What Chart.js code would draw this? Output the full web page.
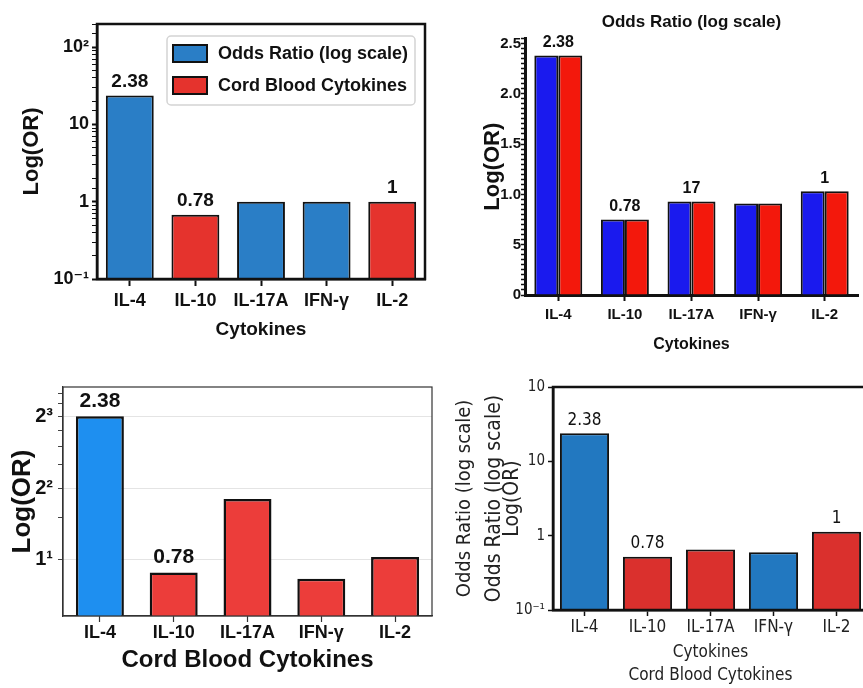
<!DOCTYPE html>
<html lang="en">
<head>
<meta charset="UTF-8">
<title>Cytokines - Log(OR)</title>
<script src="https://cdn.jsdelivr.net/npm/chart.js@4.4.1/dist/chart.umd.min.js"></script>
<style>
  html, body { margin: 0; padding: 0; background: #fff; width: 863px; height: 688px; overflow: hidden; }
  .panel { position: absolute; }
</style>
</head>
<body>
<div class="panel" style="left:0;top:0"><canvas id="c1" width="440" height="345"></canvas></div>
<div class="panel" style="left:440px;top:0"><canvas id="c2" width="423" height="360"></canvas></div>
<div class="panel" style="left:0;top:370px"><canvas id="c3" width="440" height="318"></canvas></div>
<div class="panel" style="left:440px;top:370px"><canvas id="c4" width="440" height="318"></canvas></div>

<script>
// ---- data ----
var cytokines = ['IL-4', 'IL-10', 'IL-17A', 'IFN-γ', 'IL-2'];

// top left (log10 axis, two legend groups)
var oddsRatioA = [23.8, null, 1.0, 1.0, null];
var cordBloodA = [null, 0.68, null, null, 1.0];
var barTextA = ['2.38', '0.78', '', '', '1'];
var yTicksA = [0.1, 1, 10, 100];
var yTickTextA = ['10⁻¹', '1', '10', '10²'];

// top right (linear axis, paired bars)
var oddsRatioB = [2.38, 0.75, 0.93, 0.91, 1.03];
var cordBloodB = [2.38, 0.75, 0.93, 0.91, 1.03];
var barTextB = ['2.38', '0.78', '17', '', '1'];
var yTicksB = [0, 0.5, 1, 1.5, 2, 2.5];
var yTickTextB = ['0', '5', '1.0', '1.5', '2.0', '2.5'];

// bottom left (base-2 axis)
var valuesC = [8.0, 1.77, 3.6, 1.67, 2.06];
var groupC = ['odds', 'cord', 'cord', 'cord', 'cord'];
var barTextC = ['2.38', '0.78', '', '', ''];
var yTicksC = [2, 4, 8];
var yTickTextC = ['1¹', '2²', '2³'];

// bottom right (log10 axis)
var valuesD = [23.9, 0.52, 0.65, 0.60, 1.13];
var groupD = ['odds', 'cord', 'cord', 'odds', 'cord'];
var barTextD = ['2.38', '0.78', '', '', '1'];
var yTicksD = [0.1, 1, 10, 100];
var yTickTextD = ['10⁻¹', '1', '10', '10'];

// ---- look ----
var ARIAL = "'Liberation Sans', 'DejaVu Sans', sans-serif";
var DEJAVU = "'DejaVu Sans Condensed', 'DejaVu Sans', sans-serif";
var INK = '#111';

Chart.defaults.animation = false;
Chart.defaults.color = INK;
Chart.defaults.plugins.legend.display = false;
Chart.defaults.plugins.tooltip.enabled = false;

function f(family, size, bold, lh) {
  return { family: family, size: size, weight: bold ? 'bold' : 'normal', lineHeight: lh || 1.2 };
}

function near(list, v) {
  for (var i = 0; i < list.length; i++) {
    if (Math.abs(list[i] - v) < 1e-6 * Math.max(1, list[i])) return i;
  }
  return -1;
}

// text above each category's bar(s)
function barText(labels, font, gap) {
  return {
    id: 'barText',
    afterDatasetsDraw: function (chart) {
      var ctx = chart.ctx;
      ctx.save();
      ctx.font = font;
      ctx.fillStyle = INK;
      ctx.textAlign = 'center';
      ctx.textBaseline = 'middle';
      labels.forEach(function (t, i) {
        if (!t) return;
        var lo = Infinity, hi = -Infinity, top = Infinity;
        chart.data.datasets.forEach(function (ds, d) {
          var el = chart.getDatasetMeta(d).data[i];
          if (!el || ds.data[i] == null) return;
          lo = Math.min(lo, el.x); hi = Math.max(hi, el.x); top = Math.min(top, el.y);
        });
        ctx.fillText(t, (lo + hi) / 2, top - gap);
      });
      ctx.restore();
    }
  };
}

// closed box around the plot area
function frame(color, width) {
  return {
    id: 'frame',
    afterDatasetsDraw: function (chart) {
      var a = chart.chartArea, ctx = chart.ctx;
      ctx.save();
      ctx.strokeStyle = color;
      ctx.lineWidth = width;
      ctx.strokeRect(a.left, a.top, a.right - a.left, a.bottom - a.top);
      ctx.restore();
    }
  };
}

// legend box drawn inside the plot (top-left panel)
var insideLegend = {
  id: 'insideLegend',
  afterDraw: function (chart) {
    var ctx = chart.ctx;
    ctx.save();
    ctx.beginPath();
    ctx.roundRect(167, 36, 248, 69, 4);
    ctx.fillStyle = 'rgba(255,255,255,0.85)';
    ctx.fill();
    ctx.strokeStyle = '#d4d4d4';
    ctx.lineWidth = 1.5;
    ctx.stroke();
    ctx.font = 'bold 18px ' + ARIAL;
    ctx.textBaseline = 'middle';
    chart.data.datasets.forEach(function (ds, i) {
      var y = 53 + i * 32;
      ctx.fillStyle = ds.backgroundColor;
      ctx.fillRect(173, y - 8, 34, 17);
      ctx.strokeStyle = INK;
      ctx.lineWidth = 2;
      ctx.strokeRect(173, y - 8, 34, 17);
      ctx.fillStyle = INK;
      ctx.fillText(ds.label, 218, y + 1);
    });
    ctx.restore();
  }
};

// ---- top left ----
var BLUE_A = '#2a7ec6', RED_A = '#e5332d';
new Chart(document.getElementById('c1'), {
  type: 'bar',
  data: {
    labels: cytokines,
    datasets: [
      { label: 'Odds Ratio (log scale)', data: oddsRatioA, backgroundColor: BLUE_A, borderColor: INK, borderWidth: 2, skipNull: true },
      { label: 'Cord Blood Cytokines', data: cordBloodA, backgroundColor: RED_A, borderColor: INK, borderWidth: 2, skipNull: true }
    ]
  },
  options: {
    responsive: false,
    layout: { padding: { left: 0, top: 24, right: 15, bottom: 0 } },
    datasets: { bar: { categoryPercentage: 0.73, barPercentage: 1 } },
    scales: {
      x: {
        grid: { drawOnChartArea: false, offset: false, tickLength: 7, tickColor: INK, tickWidth: 2 },
        border: { color: INK, width: 2.5 },
        ticks: { font: f(ARIAL, 18, true), padding: 4, maxRotation: 0, autoSkip: false },
        title: { display: true, text: 'Cytokines', font: f(ARIAL, 19, true), padding: { top: 0, bottom: 4 } },
        afterFit: function (s) { s.height = 66; }
      },
      y: {
        type: 'logarithmic', min: 0.1, max: 200,
        grid: {
          drawOnChartArea: false, tickLength: 5, tickColor: INK,
          tickWidth: function (c) { return near(yTicksA, c.tick.value) >= 0 ? 2 : 1; }
        },
        border: { color: INK, width: 2.5 },
        ticks: {
          autoSkip: false, font: f(ARIAL, 18, true), padding: 3,
          callback: function (v) { var i = near(yTicksA, v); return i >= 0 ? yTickTextA[i] : ''; }
        },
        title: { display: true, text: 'Log(OR)', font: f(ARIAL, 22, true), padding: { top: 19, bottom: 0 } },
        afterFit: function (s) { s.width = 97; }
      }
    }
  },
  plugins: [barText(barTextA, 'bold 19px ' + ARIAL, 14), frame(INK, 2.5), insideLegend]
});

// ---- top right ----
var BLUE_B = '#1a1aee', RED_B = '#f3180c';
new Chart(document.getElementById('c2'), {
  type: 'bar',
  data: {
    labels: cytokines,
    datasets: [
      { label: 'Odds Ratio (log scale)', data: oddsRatioB, backgroundColor: BLUE_B, borderColor: INK, borderWidth: 2 },
      { label: 'Cord Blood Cytokines', data: cordBloodB, backgroundColor: RED_B, borderColor: INK, borderWidth: 2 }
    ]
  },
  options: {
    responsive: false,
    layout: { padding: { left: 0, top: 0, right: 5, bottom: 0 } },
    datasets: { bar: { categoryPercentage: 0.72, barPercentage: 1 } },
    plugins: {
      title: {
        display: true, text: 'Odds Ratio (log scale)', fullSize: false,
        font: f(ARIAL, 17, true), color: INK, padding: { top: 12, bottom: 6 }
      }
    },
    scales: {
      x: {
        grid: { drawOnChartArea: false, offset: false, tickLength: 6, tickColor: INK, tickWidth: 2 },
        border: { color: INK, width: 3 },
        ticks: { font: f(ARIAL, 15, true), padding: 5, maxRotation: 0, autoSkip: false },
        title: { display: true, text: 'Cytokines', font: f(ARIAL, 16, true), padding: { top: 0, bottom: 6 } },
        afterFit: function (s) { s.height = 65; }
      },
      y: {
        min: 0, max: 2.55,
        grid: { drawOnChartArea: false, tickLength: 4, tickColor: INK, tickWidth: 1.5 },
        border: { color: INK, width: 3 },
        ticks: {
          stepSize: 0.05, autoSkip: false, font: f(ARIAL, 15, true), padding: 0,
          callback: function (v) { var i = near(yTicksB, v); return i >= 0 ? yTickTextB[i] : ''; }
        },
        title: { display: true, text: 'Log(OR)', font: f(ARIAL, 22, true), padding: { top: 40, bottom: 0 } },
        afterFit: function (s) { s.width = 85; }
      }
    }
  },
  plugins: [barText(barTextB, 'bold 16px ' + ARIAL, 13)]
});

// ---- bottom left ----
var colorC = { odds: '#1e8ff0', cord: '#ec3d3a' };
new Chart(document.getElementById('c3'), {
  type: 'bar',
  data: {
    labels: cytokines,
    datasets: [
      { label: 'Cord Blood Cytokines', data: valuesC, backgroundColor: groupC.map(function (g) { return colorC[g]; }), borderColor: INK, borderWidth: 2.5 }
    ]
  },
  options: {
    responsive: false,
    layout: { padding: { left: 0, top: 13, right: 8, bottom: 0 } },
    datasets: { bar: { categoryPercentage: 1, barPercentage: 0.65 } },
    scales: {
      x: {
        grid: { drawOnChartArea: false, offset: false, tickLength: 6, tickColor: '#333', tickWidth: 1.2 },
        border: { color: '#333', width: 1.2 },
        ticks: { font: f(ARIAL, 18, true), padding: 0, maxRotation: 0, autoSkip: false },
        title: { display: true, text: 'Cord Blood Cytokines', font: f(ARIAL, 24, true), padding: { top: 0, bottom: 13 } },
        afterFit: function (s) { s.height = 72; }
      },
      y: {
        type: 'logarithmic', min: 1.165, max: 10.6,
        afterBuildTicks: function (s) {
          s.ticks = s.ticks.filter(function (t) { return t.value > s.min && t.value < s.max; });
        },
        grid: {
          tickLength: 5, tickColor: '#444', tickWidth: 1,
          color: function (c) { return near(yTicksC, c.tick.value) >= 0 ? '#e4e4e4' : 'rgba(0,0,0,0)'; }
        },
        border: { color: '#333', width: 1.2 },
        ticks: {
          autoSkip: false, font: f(ARIAL, 20, true), padding: 5,
          callback: function (v) { var i = near(yTicksC, v); return i >= 0 ? yTickTextC[i] : ''; }
        },
        title: { display: true, text: 'Log(OR)', font: f(ARIAL, 26, true), padding: { top: 7, bottom: 0 } },
        afterFit: function (s) { s.width = 63; }
      }
    }
  },
  plugins: [barText(barTextC, 'bold 21px ' + ARIAL, 15), frame('#333', 1.2)]
});

// ---- bottom right ----
var colorD = { odds: '#2278c0', cord: '#da302d' };
new Chart(document.getElementById('c4'), {
  type: 'bar',
  data: {
    labels: cytokines,
    datasets: [
      { label: 'Odds Ratio (log scale)', data: valuesD, backgroundColor: groupD.map(function (g) { return colorD[g]; }), borderColor: INK, borderWidth: 2 }
    ]
  },
  options: {
    responsive: false,
    layout: { padding: { left: 0, top: 17, right: 12, bottom: 0 } },
    datasets: { bar: { categoryPercentage: 1, barPercentage: 0.78 } },
    scales: {
      x: {
        grid: { drawOnChartArea: false, offset: false, tickLength: 6, tickColor: INK, tickWidth: 1.5 },
        border: { color: INK, width: 2.5 },
        ticks: { font: f(DEJAVU, 17), color: '#222', padding: 1, maxRotation: 0, autoSkip: false },
        title: {
          display: true, text: ['Cytokines', 'Cord Blood Cytokines'], color: '#222',
          font: f(DEJAVU, 17, false, '23px'), padding: { top: 0, bottom: 1 }
        },
        afterFit: function (s) { s.height = 78; }
      },
      y: {
        type: 'logarithmic', min: 0.1, max: 100,
        afterBuildTicks: function (s) { s.ticks = yTicksD.map(function (v) { return { value: v }; }); },
        grid: { drawOnChartArea: false, tickLength: 5, tickColor: INK, tickWidth: 1.5 },
        border: { color: INK, width: 2.5 },
        ticks: {
          autoSkip: false, font: f(DEJAVU, 15), color: '#222', padding: 3,
          callback: function (v, i) { return yTickTextD[i]; }
        },
        title: {
          display: true, text: ['Odds Ratio (log scale)', 'Log(OR)'], color: '#222',
          font: f(DEJAVU, 21, false, '18px'), padding: { top: 6, bottom: 0 }
        },
        afterFit: function (s) { s.width = 73; }
      },
      yOuter: {
        position: 'left', weight: 1,
        ticks: { display: false }, grid: { display: false }, border: { display: false },
        title: { display: true, text: 'Odds Ratio (log scale)', color: '#222', font: f(DEJAVU, 20), padding: { top: 13, bottom: 0 } },
        afterFit: function (s) { s.width = 40; }
      }
    }
  },
  plugins: [barText(barTextD, '17px ' + DEJAVU, 13), frame(INK, 2.5)]
});
</script>
</body>
</html>
